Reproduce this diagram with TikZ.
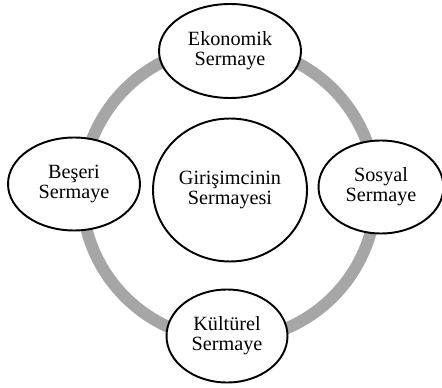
\documentclass[tikz,border=0pt]{standalone}
\usepackage{fontspec}
\setmainfont{Liberation Serif}
\usepackage{xcolor}
\usetikzlibrary{shapes,positioning}
\definecolor{halkagri}{HTML}{A6A6A6}

\begin{document}
\begin{tikzpicture}[
    x=0.02cm,y=-0.02cm,
    sermaye/.style = {ellipse, draw=black, fill=white, line width=1.1pt,
                      align=center, inner sep=0pt,
                      font=\fontsize{11.5}{11.5}\selectfont},
    halka/.style   = {draw=halkagri, line width=6.8pt},
  ]
  \useasboundingbox (0,0) rectangle (442,388);

  % gri halka
  \coordinate (orta) at (229,193);
  \draw[halka] (orta) circle [radius=2.94cm];

  \node[sermaye,minimum width=3.08cm,minimum height=2.86cm] (gir) at (230,190)
       {Girişimcinin\\Sermayesi};

  \node[sermaye,minimum width=2.84cm,minimum height=1.88cm] (eko) at (230,51)
       {Ekonomik\\Sermaye};
  \node[sermaye,minimum width=2.50cm,minimum height=1.86cm] (sos) at (381,187)
       {Sosyal\\Sermaye};
  \node[sermaye,minimum width=2.42cm,minimum height=1.86cm] (kul) at (227,336)
       {Kültürel\\Sermaye};
  \node[sermaye,minimum width=2.64cm,minimum height=1.86cm] (bes) at (74,184)
       {Beşeri\\Sermaye};

\end{tikzpicture}
\end{document}
